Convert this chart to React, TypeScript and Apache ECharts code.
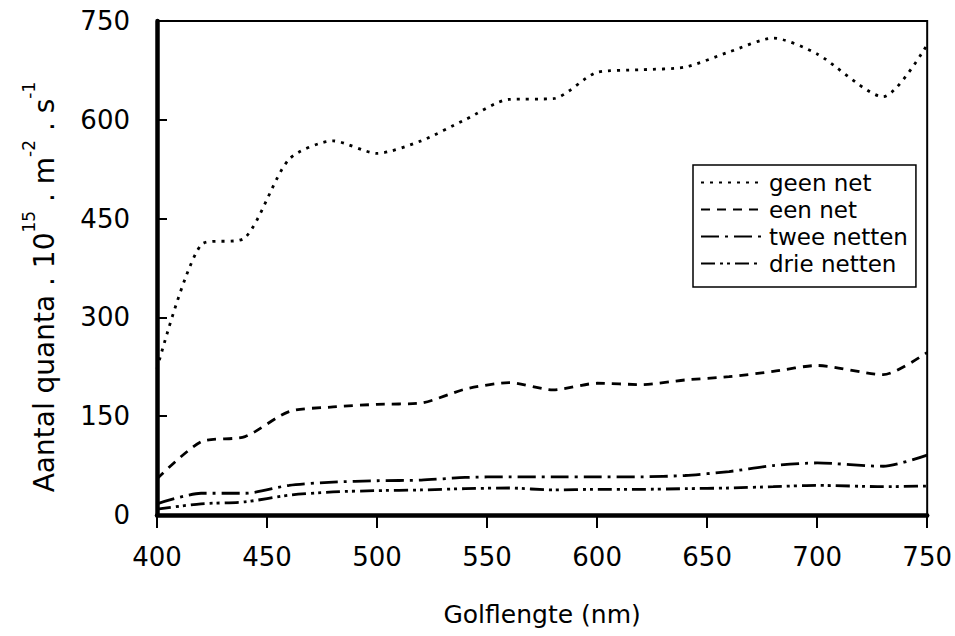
import React, { useEffect, useRef } from "react";
import * as echarts from "echarts";

const wavelengths = [400, 420, 440, 460, 480, 500, 520, 540, 560, 580, 600, 620, 640, 660, 680, 700, 730, 750];
const geenNet = [222, 410, 421, 540, 568, 549, 568, 600, 631, 632, 672, 676, 680, 703, 724, 700, 635, 714];
const eenNet = [55, 111, 119, 157, 164, 168, 170, 191, 201, 190, 200, 198, 205, 210, 218, 227, 213, 247];
const tweeNetten = [17, 33, 33, 45, 50, 52, 53, 57, 58, 58, 58, 58, 60, 66, 75, 79, 74, 91];
const drieNetten = [9, 17, 20, 30, 35, 37, 38, 40, 41, 38, 39, 39, 40, 41, 43, 45, 43, 44];
const seriesNames = ["geen net", "een net", "twee netten", "drie netten"];
const xTicks = [400, 450, 500, 550, 600, 650, 700, 750];
const yTicks = [0, 150, 300, 450, 600, 750];

const FONT = "DejaVu Sans";

export default function App() {
  const ref = useRef<HTMLDivElement>(null);
  useEffect(() => {
    if (!ref.current) return;
    const chart = echarts.init(ref.current, null, { renderer: "svg" });
    const pair = (arr: number[]) => wavelengths.map((w, i) => [w, arr[i]]);
    const dashes = [[3, 6], [9, 7], [18, 6, 3, 6], [14, 5, 3, 4, 3, 5]];
    const all = [geenNet, eenNet, tweeNetten, drieNetten];
    chart.setOption({
      animation: false,
      backgroundColor: "#ffffff",
      grid: {
        left: 157,
        right: 26,
        top: 21,
        bottom: 121,
        show: true,
        borderColor: "#000",
        borderWidth: 2,
      },
      legend: {
        orient: "vertical",
        left: 693,
        top: 165,
        itemWidth: 60,
        itemHeight: 14,
        itemGap: 4,
        padding: [6, 8, 12, 7],
        borderColor: "#000",
        borderWidth: 1.5,
        backgroundColor: "#fff",
        data: seriesNames,
        itemStyle: { opacity: 0 },
        textStyle: { fontFamily: FONT, fontSize: 23, color: "#000", padding: [0, 0, 0, 3] },
      },
      xAxis: {
        type: "value",
        min: xTicks[0],
        max: xTicks[xTicks.length - 1],
        interval: 50,
        name: "Golflengte (nm)",
        nameLocation: "middle",
        nameGap: 87,
        nameTextStyle: { fontFamily: FONT, fontSize: 25, color: "#000" },
        axisLine: { lineStyle: { color: "#000", width: 4.5 } },
        axisTick: { inside: false, length: 13, lineStyle: { color: "#000", width: 2 } },
        axisLabel: { fontFamily: FONT, fontSize: 26, color: "#000", margin: 29 },
        splitLine: { show: false },
      },
      yAxis: {
        type: "value",
        min: yTicks[0],
        max: yTicks[yTicks.length - 1],
        interval: 150,
        axisLine: { lineStyle: { color: "#000", width: 4.5 } },
        axisTick: { inside: true, length: 10, lineStyle: { color: "#000", width: 2 } },
        axisLabel: { fontFamily: FONT, fontSize: 26, color: "#000", margin: 27 },
        splitLine: { show: false },
      },
      graphic: [
        {
          type: "text",
          x: 39,
          y: 287,
          rotation: Math.PI / 2,
          style: {
            text: "{n|Aantal quanta . 10}{s|15}{n| . m}{s|-2}{n| . s}{s|-1}",
            align: "center",
            verticalAlign: "middle",
            fill: "#000",
            rich: {
              n: { fontFamily: FONT, fontSize: 28, lineHeight: 38, verticalAlign: "bottom", fill: "#000" },
              s: { fontFamily: FONT, fontSize: 17, lineHeight: 38, verticalAlign: "top", fill: "#000" },
            },
          },
        },
      ],
      series: all.map((arr, i) => ({
        name: seriesNames[i],
        type: "line",
        data: pair(arr),
        symbol: "none",
        smooth: 0.25,
        lineStyle: { color: "#000", width: 2.8, type: dashes[i] },
        itemStyle: { color: "#000" },
      })),
    });
    return () => chart.dispose();
  }, []);
  return (
    <div
      ref={ref}
      style={{ position: "absolute", left: 0, top: 0, width: 955, height: 636 }}
    />
  );
}
